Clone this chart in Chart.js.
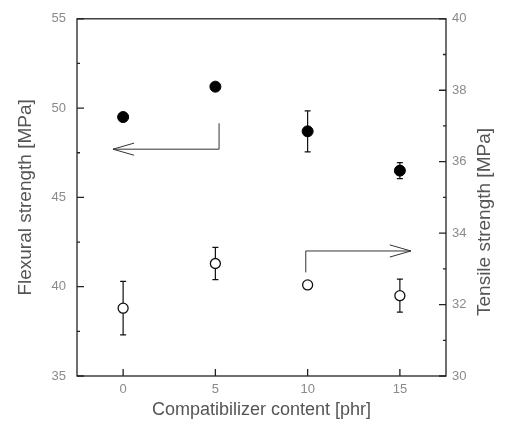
<!DOCTYPE html>
<html>
<head>
<meta charset="utf-8">
<script src="https://cdn.jsdelivr.net/npm/chart.js@4.4.1/dist/chart.umd.min.js"></script>
<style>
  html, body { margin: 0; padding: 0; background: #fff; }
  #wrap { width: 507px; height: 432px; }
</style>
</head>
<body>
<div id="wrap"><canvas id="strengthChart"></canvas></div>
<script>
/* ---- data ---- */
var contents      = [0, 5, 10, 15];
var flexural      = [49.5, 51.2, 48.7, 46.5];
var flexuralErr   = [0.2, 0.2, 1.15, 0.45];
var tensile       = [31.9, 33.15, 32.55, 32.25];
var tensileErr    = [0.75, 0.45, 0, 0.46];

var contentTicks  = [0, 5, 10, 15];
var flexTicks     = [35, 40, 45, 50, 55];
var flexMinor     = [37.5, 42.5, 47.5, 52.5];
var tensileTicks  = [30, 32, 34, 36, 38, 40];
var tensileMinor  = [31, 33, 35, 37, 39];

/* arrows pointing to the axis each series belongs to: [x, y] in data units */
var flexArrow     = [[5.2, 49.15], [5.2, 47.7], [-0.55, 47.7]];
var tensileArrow  = [[9.9, 32.9], [9.9, 33.5], [15.6, 33.5]];

var labelFont  = { family: 'Liberation Sans, Arial, sans-serif', size: 13 };
var titleFont  = { family: 'Liberation Sans, Arial, sans-serif', size: 18 };
var sideFont   = { family: 'Liberation Sans, Arial, sans-serif', size: 19 };
var labelColor = '#8a8a8a';
var titleColor = '#555';

function fixTicks(list) {
  return function (scale) {
    scale.ticks = list.map(function (v) { return { value: v }; });
  };
}

/* ---- frame, inward ticks, error bars, arrows, right title ---- */
var decorations = {
  id: 'decorations',
  beforeDatasetsDraw: function (chart) {
    var ctx = chart.ctx, a = chart.chartArea;
    var sx = chart.scales.x, sy = chart.scales.y, sy2 = chart.scales.y2;
    ctx.save();
    ctx.strokeStyle = '#222';
    ctx.lineWidth = 1.3;
    ctx.strokeRect(a.left, a.top, a.right - a.left, a.bottom - a.top);

    ctx.beginPath();
    contentTicks.forEach(function (v) {
      var px = sx.getPixelForValue(v);
      ctx.moveTo(px, a.bottom); ctx.lineTo(px, a.bottom - 7);
    });
    flexTicks.forEach(function (v) {
      var py = sy.getPixelForValue(v);
      ctx.moveTo(a.left, py); ctx.lineTo(a.left + 7, py);
    });
    flexMinor.forEach(function (v) {
      var py = sy.getPixelForValue(v);
      ctx.moveTo(a.left, py); ctx.lineTo(a.left + 3, py);
    });
    tensileTicks.forEach(function (v) {
      var py = sy2.getPixelForValue(v);
      ctx.moveTo(a.right, py); ctx.lineTo(a.right - 7, py);
    });
    tensileMinor.forEach(function (v) {
      var py = sy2.getPixelForValue(v);
      ctx.moveTo(a.right, py); ctx.lineTo(a.right - 3, py);
    });
    ctx.stroke();

    /* error bars */
    ctx.lineWidth = 1.2;
    ctx.strokeStyle = '#111';
    function bars(values, errs, scale) {
      values.forEach(function (v, i) {
        if (!errs[i]) return;
        var px = sx.getPixelForValue(contents[i]);
        var top = scale.getPixelForValue(v + errs[i]);
        var bot = scale.getPixelForValue(v - errs[i]);
        ctx.beginPath();
        ctx.moveTo(px, top); ctx.lineTo(px, bot);
        ctx.moveTo(px - 3, top); ctx.lineTo(px + 3, top);
        ctx.moveTo(px - 3, bot); ctx.lineTo(px + 3, bot);
        ctx.stroke();
      });
    }
    bars(flexural, flexuralErr, sy);
    bars(tensile, tensileErr, sy2);

    /* arrows */
    function arrow(points, scale) {
      var pts = points.map(function (p) {
        return [sx.getPixelForValue(p[0]), scale.getPixelForValue(p[1])];
      });
      ctx.beginPath();
      pts.forEach(function (p, i) {
        if (i === 0) ctx.moveTo(p[0], p[1]); else ctx.lineTo(p[0], p[1]);
      });
      var tip = pts[pts.length - 1], prev = pts[pts.length - 2];
      var ang = Math.atan2(tip[1] - prev[1], tip[0] - prev[0]);
      [-0.28, 0.28].forEach(function (d) {
        ctx.moveTo(tip[0], tip[1]);
        ctx.lineTo(tip[0] - 22 * Math.cos(ang + d), tip[1] - 22 * Math.sin(ang + d));
      });
      ctx.stroke();
    }
    ctx.lineWidth = 1;
    ctx.strokeStyle = '#333';
    arrow(flexArrow, sy);
    arrow(tensileArrow, sy2);
    ctx.restore();
  },
  afterDraw: function (chart) {
    var ctx = chart.ctx;
    ctx.save();
    ctx.translate(485, 222);
    ctx.rotate(-Math.PI / 2);
    ctx.font = sideFont.size + 'px ' + sideFont.family;
    ctx.fillStyle = titleColor;
    ctx.textAlign = 'center';
    ctx.textBaseline = 'middle';
    ctx.fillText('Tensile strength [MPa]', 0, 0);
    ctx.restore();
  }
};

document.addEventListener('DOMContentLoaded', function () {
  var ctx = document.getElementById('strengthChart').getContext('2d');
  new Chart(ctx, {
    type: 'scatter',
    data: {
      datasets: [
        {
          label: 'Flexural strength',
          data: contents.map(function (c, i) { return { x: c, y: flexural[i] }; }),
          yAxisID: 'y',
          pointStyle: 'circle',
          pointRadius: 5.5,
          backgroundColor: '#000',
          borderColor: '#000',
          borderWidth: 1
        },
        {
          label: 'Tensile strength',
          data: contents.map(function (c, i) { return { x: c, y: tensile[i] }; }),
          yAxisID: 'y2',
          pointStyle: 'circle',
          pointRadius: 5,
          backgroundColor: '#fff',
          borderColor: '#111',
          borderWidth: 1.3
        }
      ]
    },
    options: {
      responsive: true,
      maintainAspectRatio: false,
      animation: false,
      devicePixelRatio: 1,
      layout: { padding: { top: 6, left: 0, right: 0, bottom: 0 } },
      plugins: { legend: { display: false }, tooltip: { enabled: false } },
      scales: {
        x: {
          type: 'linear',
          min: -2.5,
          max: 17.5,
          afterBuildTicks: fixTicks(contentTicks),
          afterFit: function (s) { s.height = 56; },
          grid: { display: false, drawTicks: false },
          border: { display: false },
          ticks: { padding: 6, color: labelColor, font: labelFont, maxRotation: 0 },
          title: {
            display: true,
            text: 'Compatibilizer content [phr]',
            color: titleColor,
            font: titleFont,
            padding: { top: 4, bottom: 11 }
          }
        },
        y: {
          position: 'left',
          min: 35,
          max: 55,
          afterBuildTicks: fixTicks(flexTicks),
          afterFit: function (s) { s.width = 77; },
          grid: { display: false, drawTicks: false },
          border: { display: false },
          ticks: { padding: 11, color: labelColor, font: labelFont },
          title: {
            display: true,
            text: 'Flexural strength [MPa]',
            color: titleColor,
            font: sideFont,
            padding: { top: 14, bottom: 0 }
          }
        },
        y2: {
          position: 'right',
          min: 30,
          max: 40,
          afterBuildTicks: fixTicks(tensileTicks),
          afterFit: function (s) { s.width = 61; },
          grid: { display: false, drawTicks: false },
          border: { display: false },
          ticks: { padding: 6, color: labelColor, font: labelFont }
        }
      }
    },
    plugins: [decorations]
  });
});
</script>
</body>
</html>
